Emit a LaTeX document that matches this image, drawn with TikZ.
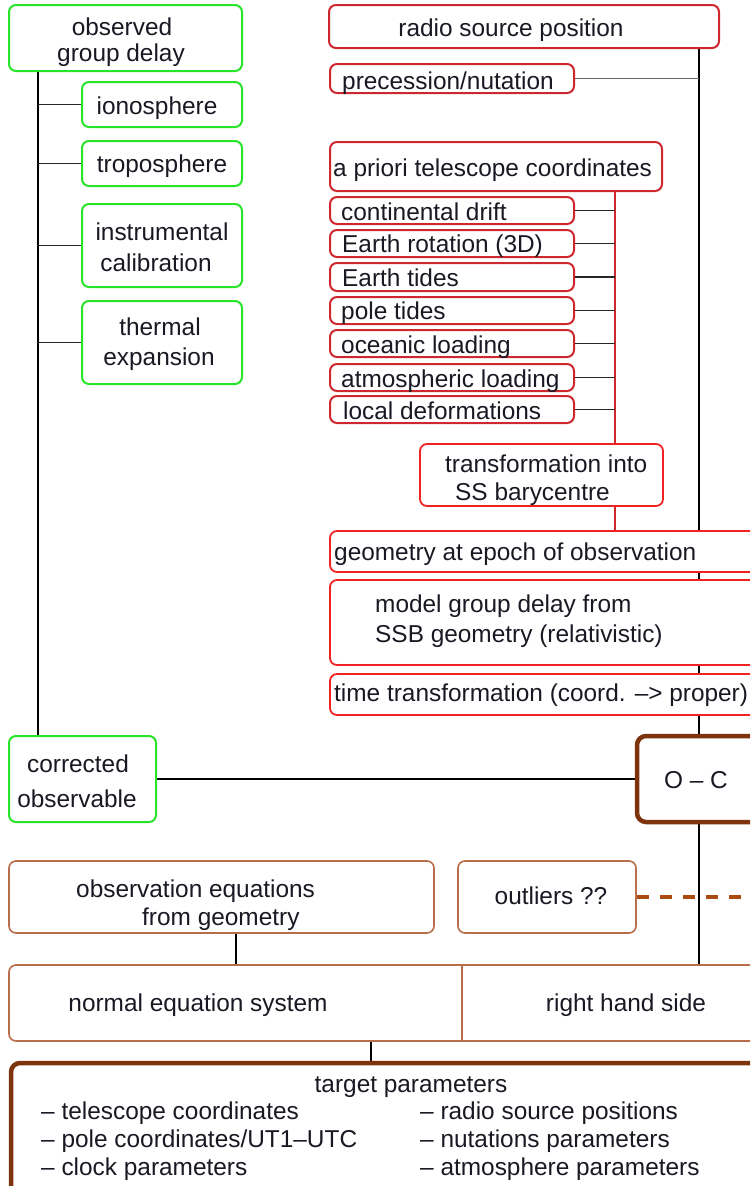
\documentclass[tikz,border=0pt]{standalone}
\usepackage{fontspec}
\setmainfont{Liberation Sans}
\usetikzlibrary{fit,backgrounds}
\definecolor{gboxc}{RGB}{40,228,40}
\definecolor{rboxc}{RGB}{205,40,45}
\definecolor{rboxd}{RGB}{240,35,35}
\definecolor{brthick}{RGB}{125,52,12}
\definecolor{brthin}{RGB}{185,110,75}
\definecolor{dashc}{RGB}{170,75,15}
\definecolor{txtc}{RGB}{25,25,35}
\begin{document}
\begin{tikzpicture}[x=1pt,y=-1pt,
  font=\fontsize{24.4}{28}\selectfont, text=txtc,
  bx/.style={rectangle, rounded corners=7pt, inner sep=0pt, fill=white},
  gbox/.style={bx, draw=gboxc, line width=2pt},
  rbox/.style={bx, draw=rboxc, line width=2pt},
  rboxlow/.style={bx, draw=rboxd, line width=1.8pt},
  obox/.style={bx, draw=brthick, line width=4.5pt, rounded corners=9pt},
  nbox/.style={bx, draw=brthin, line width=1.6pt},
  lbl/.style={inner sep=0pt, text height=0.72em, text depth=0pt, yshift=-5.5pt},
  lbll/.style={lbl, anchor=west},
  mainline/.style={line width=2pt, black},
  branch/.style={line width=1.3pt, black!85},
  redline/.style={line width=2pt, rboxc},
  dashline/.style={line width=4.2pt, dashc, dash pattern=on 12pt off 11pt}]
\useasboundingbox (0,0) rectangle (750,1186);
\clip (0,0) rectangle (750,1186);
% reference coordinates
\coordinate (L) at (37.5,0);
\coordinate (R) at (699,0);
\coordinate (Q) at (615,0);
\coordinate (A) at (236,0);
\coordinate (B) at (371,0);
\coordinate (D) at (462,0);
\coordinate (E) at (760,0);
% green boxes
\node[gbox, fit={(9,5) (242,71)}] (ogd) {};
\node[gbox, fit={(82,82) (242,127)}] (iono) {};
\node[gbox, fit={(82,141) (242,186)}] (trop) {};
\node[gbox, fit={(82,204) (242,287)}] (inst) {};
\node[gbox, fit={(82,301) (242,384)}] (therm) {};
\node[gbox, fit={(9,736) (156,822)}] (co) {};
\node[lbl] (ogdA) at (122,26) {observed};
\node[lbl] (ogdB) at (121,52) {group delay};
\node[lbl] (ionoT) at (157,105) {ionosphere};
\node[lbl] (tropT) at (162,163) {troposphere};
\node[lbl] (instA) at (162,231) {instrumental};
\node[lbl] (instB) at (156,262) {calibration};
\node[lbl] (thermA) at (160,326) {thermal};
\node[lbl] (thermB) at (159,356) {expansion};
\node[lbl] (coA) at (78,763) {corrected};
\node[lbl] (coB) at (77,798) {observable};
% red boxes
\node[rbox, fit={(329,5) (719,48)}] (rsp) {};
\node[rbox, fit={(330,64) (574,93)}] (pn) {};
\node[rbox, fit={(330,142) (662,191)}] (apc) {};
\node[rbox, fit={(330,197) (574,224)}] (cd) {};
\node[rbox, fit={(330,230) (574,257)}] (er) {};
\node[rbox, fit={(330,263) (574,291)}] (et) {};
\node[rbox, fit={(330,297) (574,324)}] (pt) {};
\node[rbox, fit={(330,330) (574,357)}] (ol) {};
\node[rbox, fit={(330,364) (574,391)}] (al) {};
\node[rbox, fit={(330,396) (574,423)}] (ld) {};
\node[rboxlow, fit={(420,444) (663,506)}] (tss) {};
\node[rboxlow, fit={(330,531) (760,572)}] (geo) {};
\node[rboxlow, fit={(330,580) (760,665)}] (mgd) {};
\node[rboxlow, fit={(330,674) (760,715)}] (tt) {};
\node[lbl] (rspT) at (511,27) {radio source position};
\node[lbll] (pnT) at (342,80) {precession/nutation};
\node[lbll] (apcT) at (333,167) {a priori telescope coordinates};
\node[lbll] (cdT) at (341,211) {continental drift};
\node[lbll] (erT) at (342,243) {Earth rotation (3D)};
\node[lbll] (etT) at (342,277) {Earth tides};
\node[lbll] (ptT) at (341,310) {pole tides};
\node[lbll] (olT) at (341,344) {oceanic loading};
\node[lbll] (alT) at (341,378) {atmospheric loading};
\node[lbll] (ldT) at (343,410) {local deformations};
\node[lbll] (tssA) at (445,463) {transformation into};
\node[lbll] (tssB) at (455,491) {SS barycentre};
\node[lbll] (geoT) at (334,551) {geometry at epoch of observation};
\node[lbll] (mgdA) at (375,603) {model group delay from};
\node[lbll] (mgdB) at (375,633) {SSB geometry (relativistic)};
\node[lbll] (ttT) at (334,692) {time transformation (coord. –> proper)};
% brown boxes
\node[obox, fit={(637,736) (762,822)}] (oc) {};
\node[lbl] (ocT) at (696,779) {O – C};
\node[nbox, fit={(9,861) (434,933)}] (obs) {};
\node[nbox, fit={(458,861) (636,933)}] (outl) {};
\node[nbox, fit={(9,965) (760,1041)}] (neq) {};
\node[obox, fit={(11,1063) (762,1200)}] (tp) {};
\node[lbll] (obsA) at (76,888) {observation equations};
\node[lbll] (obsB) at (142,916) {from geometry};
\node[lbl] (outlT) at (551,895) {outliers ??};
\node[lbl] (neqA) at (198,1002) {normal equation system};
\node[lbl] (neqB) at (626,1002) {right hand side};
\node[lbl] (tpT) at (411,1083) {target parameters};
\node[lbll] (tp1) at (41,1110) {– telescope coordinates};
\node[lbll] (tp2) at (41,1138) {– pole coordinates/UT1–UTC};
\node[lbll] (tp3) at (41,1166) {– clock parameters};
\node[lbll] (tp4) at (420,1110) {– radio source positions};
\node[lbll] (tp5) at (420,1138) {– nutations parameters};
\node[lbll] (tp6) at (420,1166) {– atmosphere parameters};
\draw[line width=1.6pt, brthin] (D |- neq.north) -- (D |- neq.south);
% connectors
\begin{pgfonlayer}{background}
\draw[mainline] (L |- ogd.south) -- (L |- co.north);
\foreach \n in {iono,trop,inst,therm}
  \draw[branch] (L |- \n.west) -- (\n.west);
\draw[mainline] (R |- rsp.south) -- (R |- oc.north);
\draw[line width=1.3pt, black!60] (pn.east) -- (pn.east -| R);
\draw[redline] (Q |- apc.south) -- (Q |- tss.north);
\draw[redline] (Q |- tss.south) -- (Q |- geo.north);
\foreach \n in {cd,er,et,pt,ol,al,ld}
  \draw[branch] (\n.east) -- (\n.east -| Q);
\draw[line width=1.3pt, black] (co.east) -- (oc.west);
\draw[mainline] (R |- oc.south) -- (R |- neq.north);
\draw[dashline] (outl.east) -- (outl.east -| E);
\draw[mainline] (A |- obs.south) -- (A |- neq.north);
\draw[mainline] (B |- neq.south) -- (B |- tp.north);
\end{pgfonlayer}
\end{tikzpicture}
\end{document}
